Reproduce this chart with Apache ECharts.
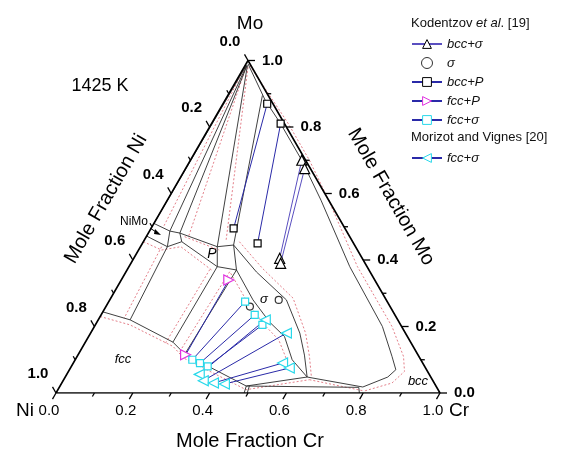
<!DOCTYPE html>
<html>
<head>
<meta charset="utf-8">
<script src="https://cdn.jsdelivr.net/npm/echarts@6/dist/echarts.min.js"></script>
<style>
  html, body { margin: 0; padding: 0; background: #fff; }
  #chart { width: 569px; height: 454px; }
</style>
</head>
<body>
<div id="chart"></div>
<script>
// Ni-Cr-Mo isothermal section at 1425 K. Every composition is [x(Cr), x(Mo)].
const FONT = 'Arial, "Liberation Sans", sans-serif';

// axis ticks (mole fraction) and their labels
const tickValues = [0, 0.1, 0.2, 0.3, 0.4, 0.5, 0.6, 0.7, 0.8, 0.9, 1.0];
const tickLabels = ['0.0', '0.2', '0.4', '0.6', '0.8', '1.0'];

// triangle corners: Ni, Cr, Mo
const corners = [[0, 0], [1, 0], [0, 1], [0, 0]];

// calculated phase boundaries (solid)
const bccBoundary = [[0.005, 0.99], [0.105, 0.88], [0.18, 0.81], [0.29, 0.70], [0.40, 0.58], [0.575, 0.38], [0.75, 0.20], [0.82, 0.11], [0.85, 0.07], [0.84, 0.048], [0.79, 0.018]];
const fccBoundary = [[0, 0.244], [0.083, 0.22], [0.228, 0.153], [0.277, 0.117], [0.485, 0.021], [0.63, 0.048]];
const sigmaUpper = [[0.24, 0.445], [0.34, 0.364], [0.46, 0.28], [0.545, 0.18], [0.59, 0.114], [0.63, 0.048]];
const sigmaLower = [[0.285, 0.37], [0.373, 0.28], [0.45, 0.213], [0.51, 0.17], [0.565, 0.10], [0.63, 0.048]];
const pPhase = [[0.20, 0.44], [0.24, 0.445], [0.285, 0.37], [0.23, 0.38], [0.20, 0.44]];
const niMoPhase = [[0, 0.51], [0.053, 0.487], [0.082, 0.481], [0.10, 0.455], [0.07, 0.44], [0, 0.472]];
const otherBoundaries = [
  [[0.003, 0.985], [0, 0.51]],
  [[0.004, 0.985], [0.053, 0.487]],
  [[0.005, 0.985], [0.082, 0.481]],
  [[0.006, 0.985], [0.20, 0.44]],
  [[0.09, 0.895], [0.24, 0.445]],
  [[0.053, 0.487], [0.07, 0.44]],
  [[0.082, 0.481], [0.20, 0.44]],
  [[0.10, 0.455], [0.23, 0.38]],
  [[0.07, 0.44], [0.083, 0.22]],
  [[0.228, 0.153], [0.23, 0.38]],
  [[0.277, 0.117], [0.285, 0.37]],
  [[0.63, 0.048], [0.79, 0.018]],
  [[0.485, 0.021], [0.78, 0.017], [0.79, 0]],
  [[0.485, 0.021], [0.49, 0]],
  [[0.493, 0.021], [0.498, 0]]
];

// second calculation (dotted)
const dottedBoundaries = [
  [[0.012, 0.985], [0.125, 0.88], [0.20, 0.81], [0.31, 0.70], [0.42, 0.58], [0.595, 0.38], [0.775, 0.20], [0.85, 0.11], [0.875, 0.065], [0.86, 0.03], [0.80, 0.006]],
  [[0.002, 0.98], [0.03, 0.50]],
  [[0.005, 0.98], [0.11, 0.47]],
  [[0.01, 0.98], [0.215, 0.455]],
  [[0, 0.23], [0.09, 0.205], [0.235, 0.14], [0.28, 0.105], [0.49, 0.01], [0.64, 0.04]],
  [[0.25, 0.455], [0.35, 0.375], [0.475, 0.285], [0.56, 0.18], [0.605, 0.11], [0.64, 0.05]],
  [[0.275, 0.36], [0.36, 0.275], [0.44, 0.205], [0.5, 0.16], [0.555, 0.095]],
  [[0.21, 0.15], [0.215, 0.375]],
  [[0.26, 0.125], [0.27, 0.365]],
  [[0.055, 0.44], [0.065, 0.225]],
  [[0, 0.455], [0.06, 0.43], [0.105, 0.44], [0.22, 0.37]],
  [[0.1, 0.47], [0.21, 0.43]],
  [[0.64, 0.04], [0.80, 0.006]]
];

// Kodentzov et al. [19] tie-lines
const bccSigmaTies = [[[0.29, 0.70], [0.38, 0.405]], [[0.31, 0.675], [0.39, 0.39]]];
const sigmaPoints = [[0.375, 0.26], [0.44, 0.28]];
const bccPTies = [[[0.115, 0.87], [0.215, 0.495]], [[0.18, 0.81], [0.30, 0.45]]];
const fccPTies = [[[0.28, 0.34], [0.28, 0.115]]];
const fccSigmaTiesK = [[[0.355, 0.275], [0.305, 0.10]], [[0.40, 0.235], [0.33, 0.09]], [[0.435, 0.205], [0.355, 0.08]]];
// Morizot and Vignes [20] tie-lines
const fccSigmaTiesM = [[[0.435, 0.22], [0.345, 0.056]], [[0.51, 0.18], [0.365, 0.037]], [[0.545, 0.09], [0.395, 0.03]], [[0.57, 0.075], [0.425, 0.027]]];

const H = Math.sqrt(3) / 2;
function toXY(p) { return [p[0] + p[1] / 2, p[1] * H]; }

const series = [];

function boundary(pts, dotted) {
  series.push({
    type: 'line', data: pts.map(toXY), symbol: 'none', silent: true, z: dotted ? 2 : 3,
    lineStyle: dotted ? { color: '#e0707c', width: 0.9, type: [2, 2] } : { color: '#2a2a2a', width: 0.9 }
  });
}
dottedBoundaries.forEach(p => boundary(p, true));
[bccBoundary, fccBoundary, sigmaUpper, sigmaLower, pPhase, niMoPhase].concat(otherBoundaries).forEach(p => boundary(p, false));

// triangle frame
series.push({ type: 'line', data: corners.map(toXY), symbol: 'none', silent: true, z: 5,
  lineStyle: { color: '#000', width: 1.6 } });

function ties(name, list, sym, size, rot, fill, stroke, lineColor) {
  list.forEach(pair => series.push({
    type: 'line', name: name, data: pair.map(toXY), z: 6,
    symbol: sym, symbolSize: size, symbolRotate: rot, showSymbol: true,
    itemStyle: { color: fill, borderColor: stroke, borderWidth: 1.2 },
    lineStyle: { color: lineColor, width: 1 }
  }));
}
ties('bcc+σ', bccSigmaTies, 'triangle', 10, 0, '#fff', '#000', '#5a4fc0');
series.push({ type: 'scatter', name: 'σ', data: sigmaPoints.map(toXY), symbol: 'circle', symbolSize: 7, z: 6,
  itemStyle: { color: '#fff', borderColor: '#000', borderWidth: 1.2 } });
ties('bcc+P', bccPTies, 'rect', 7, 0, '#fff', '#000', '#2a2aa8');
ties('fcc+P', fccPTies, 'triangle', 10, -90, '#fff', '#e030e0', '#2a2aa8');
ties('fcc+σ', fccSigmaTiesK, 'rect', 7, 0, '#fff', '#28d8ea', '#2a2aa8');
ties('Morizot fcc+σ', fccSigmaTiesM, 'triangle', 10, 90, '#fff', '#28d8ea', '#2a2aa8');

// axis ticks and tick labels: side 0 = Cr (bottom), 1 = Mo (right), 2 = Ni (left)
const tickData = [];
[0, 1, 2].forEach(side => tickValues.forEach((v, i) => tickData.push([side, v, i % 2 === 0 ? 1 : 0])));
series.push({
  type: 'custom', data: tickData, silent: true, z: 7,
  renderItem: function (params, api) {
    const side = api.value(0), v = api.value(1), major = api.value(2);
    let comp, dir;
    if (side === 0) { comp = [v, 0]; dir = [-0.5, 0.866]; }
    else if (side === 1) { comp = [1 - v, v]; dir = [1, 0]; }
    else { comp = [0, 1 - v]; dir = [-0.5, -0.866]; }
    const p = api.coord(toXY(comp));
    const len = major ? 7 : 4;
    const children = [{
      type: 'line',
      shape: { x1: p[0], y1: p[1], x2: p[0] + dir[0] * len, y2: p[1] + dir[1] * len },
      style: { stroke: '#000', lineWidth: 1.3 }
    }];
    if (major) {
      const label = tickLabels[Math.round(v * 5)];
      let x, y, align;
      if (side === 0) { x = p[0] - 7; y = p[1] + 18; align = 'center'; }
      else if (side === 1) { x = p[0] + 14; y = p[1]; align = 'left'; }
      else { x = p[0] - 18; y = p[1] - 19; align = 'center'; }
      children.push({
        type: 'text',
        style: { text: label, x: x, y: y, align: align, verticalAlign: 'middle', fill: '#000',
          font: (side === 0 ? '' : 'bold ') + '15px ' + FONT }
      });
    }
    return { type: 'group', children: children };
  }
});

function txt(x, y, text, size, opts) {
  return Object.assign({
    type: 'text', x: x, y: y, silent: true,
    style: { text: text, fill: '#000', align: 'center', verticalAlign: 'middle', font: size + 'px ' + FONT }
  }, opts || {});
}
function itxt(x, y, text, size) {
  return {
    type: 'text', x: x, y: y, silent: true,
    style: { text: text, fill: '#000', align: 'center', verticalAlign: 'middle', font: 'italic ' + size + 'px ' + FONT }
  };
}

const legendText = { fontFamily: FONT, fontSize: 13, fontStyle: 'italic', lineHeight: 14, color: '#111' };

const option = {
  animation: false,
  backgroundColor: '#fff',
  grid: { left: 56, top: 60.5, width: 384, height: 332.5 },
  xAxis: { type: 'value', min: 0, max: 1, show: false },
  yAxis: { type: 'value', min: 0, max: H, show: false },
  legend: [
    {
      data: ['bcc+σ', 'σ', 'bcc+P', 'fcc+P', 'fcc+σ'],
      orient: 'vertical', left: 406, top: 32, itemWidth: 30, itemHeight: 11, itemGap: 5,
      selectedMode: false, itemStyle: { borderWidth: 1 },
      textStyle: legendText
    },
    {
      data: ['Morizot fcc+σ'],
      formatter: function (n) { return n.replace('Morizot ', ''); },
      orient: 'vertical', left: 406, top: 146, itemWidth: 30, itemHeight: 11,
      selectedMode: false, itemStyle: { borderWidth: 1 },
      textStyle: legendText
    }
  ],
  graphic: [
    txt(250, 24, 'Mo', 19),
    txt(25, 411, 'Ni', 19),
    txt(459, 411, 'Cr', 19),
    txt(250, 441, 'Mole Fraction Cr', 20),
    txt(106, 199, 'Mole Fraction Ni', 20, { rotation: Math.PI / 3 }),
    txt(391, 197, 'Mole Fraction Mo', 20, { rotation: -Math.PI / 3 }),
    txt(100, 86, '1425 K', 18),
    txt(134, 222, 'NiMo', 12),
    { type: 'line', silent: true, shape: { x1: 150, y1: 228, x2: 156, y2: 232 }, style: { stroke: '#000', lineWidth: 1 } },
    { type: 'polygon', silent: true, shape: { points: [[155, 229], [161, 235], [154, 234]] }, style: { fill: '#000' } },
    itxt(212, 254, 'P', 14),
    itxt(264, 299, 'σ', 13),
    itxt(123, 359, 'fcc', 13),
    itxt(418, 381, 'bcc', 13),
    {
      type: 'text', x: 411, y: 23, silent: true,
      style: {
        text: '{n|Kodentzov }{i|et al}{n|. [19]}', verticalAlign: 'middle', align: 'left',
        rich: { n: { font: '13px ' + FONT, fill: '#111' }, i: { font: 'italic 13px ' + FONT, fill: '#111' } }
      }
    },
    {
      type: 'text', x: 411, y: 137, silent: true,
      style: { text: 'Morizot and Vignes [20]', verticalAlign: 'middle', align: 'left', font: '13px ' + FONT, fill: '#111' }
    }
  ],
  series: series
};

const chart = echarts.init(document.getElementById('chart'), null, { renderer: 'canvas' });
chart.setOption(option);
</script>
</body>
</html>
